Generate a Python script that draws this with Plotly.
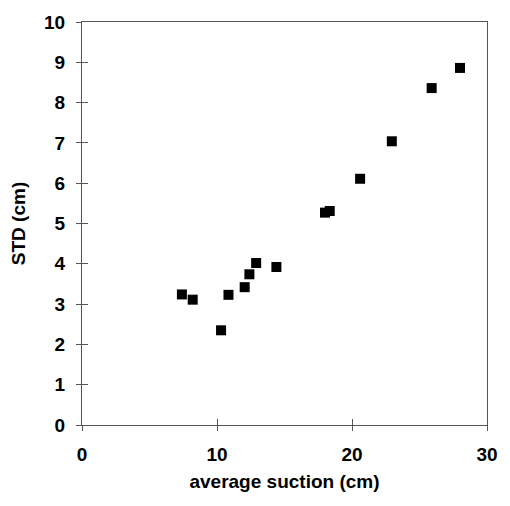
import plotly.graph_objects as go

avg_suction = [7.4, 8.2, 10.3, 10.85, 12.05, 12.4, 12.9, 14.4, 18.0, 18.35, 20.6, 22.95, 25.9, 28.0]
std_cm = [3.24, 3.11, 2.35, 3.23, 3.42, 3.74, 4.02, 3.92, 5.27, 5.31, 6.11, 7.04, 8.36, 8.86]

x_ticks = [0, 10, 20, 30]
y_ticks = list(range(0, 11))

FAM = "Arial, Liberation Sans, sans-serif"
font = dict(family=FAM, size=19, color="black", weight="bold")

fig = go.Figure()
fig.add_trace(go.Scatter(
    x=avg_suction, y=std_cm, mode="markers",
    marker=dict(symbol="square", size=10, color="black"),
    showlegend=False,
))
# invisible helper trace so the overlay axes (inner tick halves) are drawn
fig.add_trace(go.Scatter(x=[x_ticks[0]], y=[y_ticks[0]], xaxis="x2", yaxis="y2",
                         mode="markers", marker=dict(opacity=0),
                         showlegend=False, hoverinfo="skip"))

axis_common = dict(
    showline=True, linecolor="#555", linewidth=1, mirror=True,
    ticks="outside", ticklen=5, tickcolor="#555", tickwidth=1,
    showgrid=False, zeroline=False,
    tickfont=font, ticklabelstandoff=7,
)

fig.update_layout(
    width=510, height=506,
    margin=dict(l=82, r=22, t=14, b=81),
    paper_bgcolor="white", plot_bgcolor="white",
    xaxis=dict(range=[0, 30], tickvals=x_ticks,
               ticktext=[f"<b>{v}</b>" for v in x_ticks], **axis_common,
               title=dict(text="<b>average suction (cm)</b>", font=font, standoff=10)),
    yaxis=dict(range=[0, 10], tickvals=y_ticks,
               ticktext=[f"<b>{v}</b>" for v in y_ticks], **axis_common,
               title=dict(text="<b>STD (cm)</b>", font=font, standoff=13)),
    xaxis2=dict(range=[0, 30], tickvals=x_ticks, overlaying="x", anchor="y2",
                side="bottom", ticks="inside", ticklen=6, tickcolor="#555",
                showticklabels=False, showline=False, showgrid=False, zeroline=False),
    yaxis2=dict(range=[0, 10], tickvals=y_ticks, overlaying="y", anchor="x2",
                side="left", ticks="inside", ticklen=6, tickcolor="#555",
                showticklabels=False, showline=False, showgrid=False, zeroline=False),
)

fig.write_html("out.html")
